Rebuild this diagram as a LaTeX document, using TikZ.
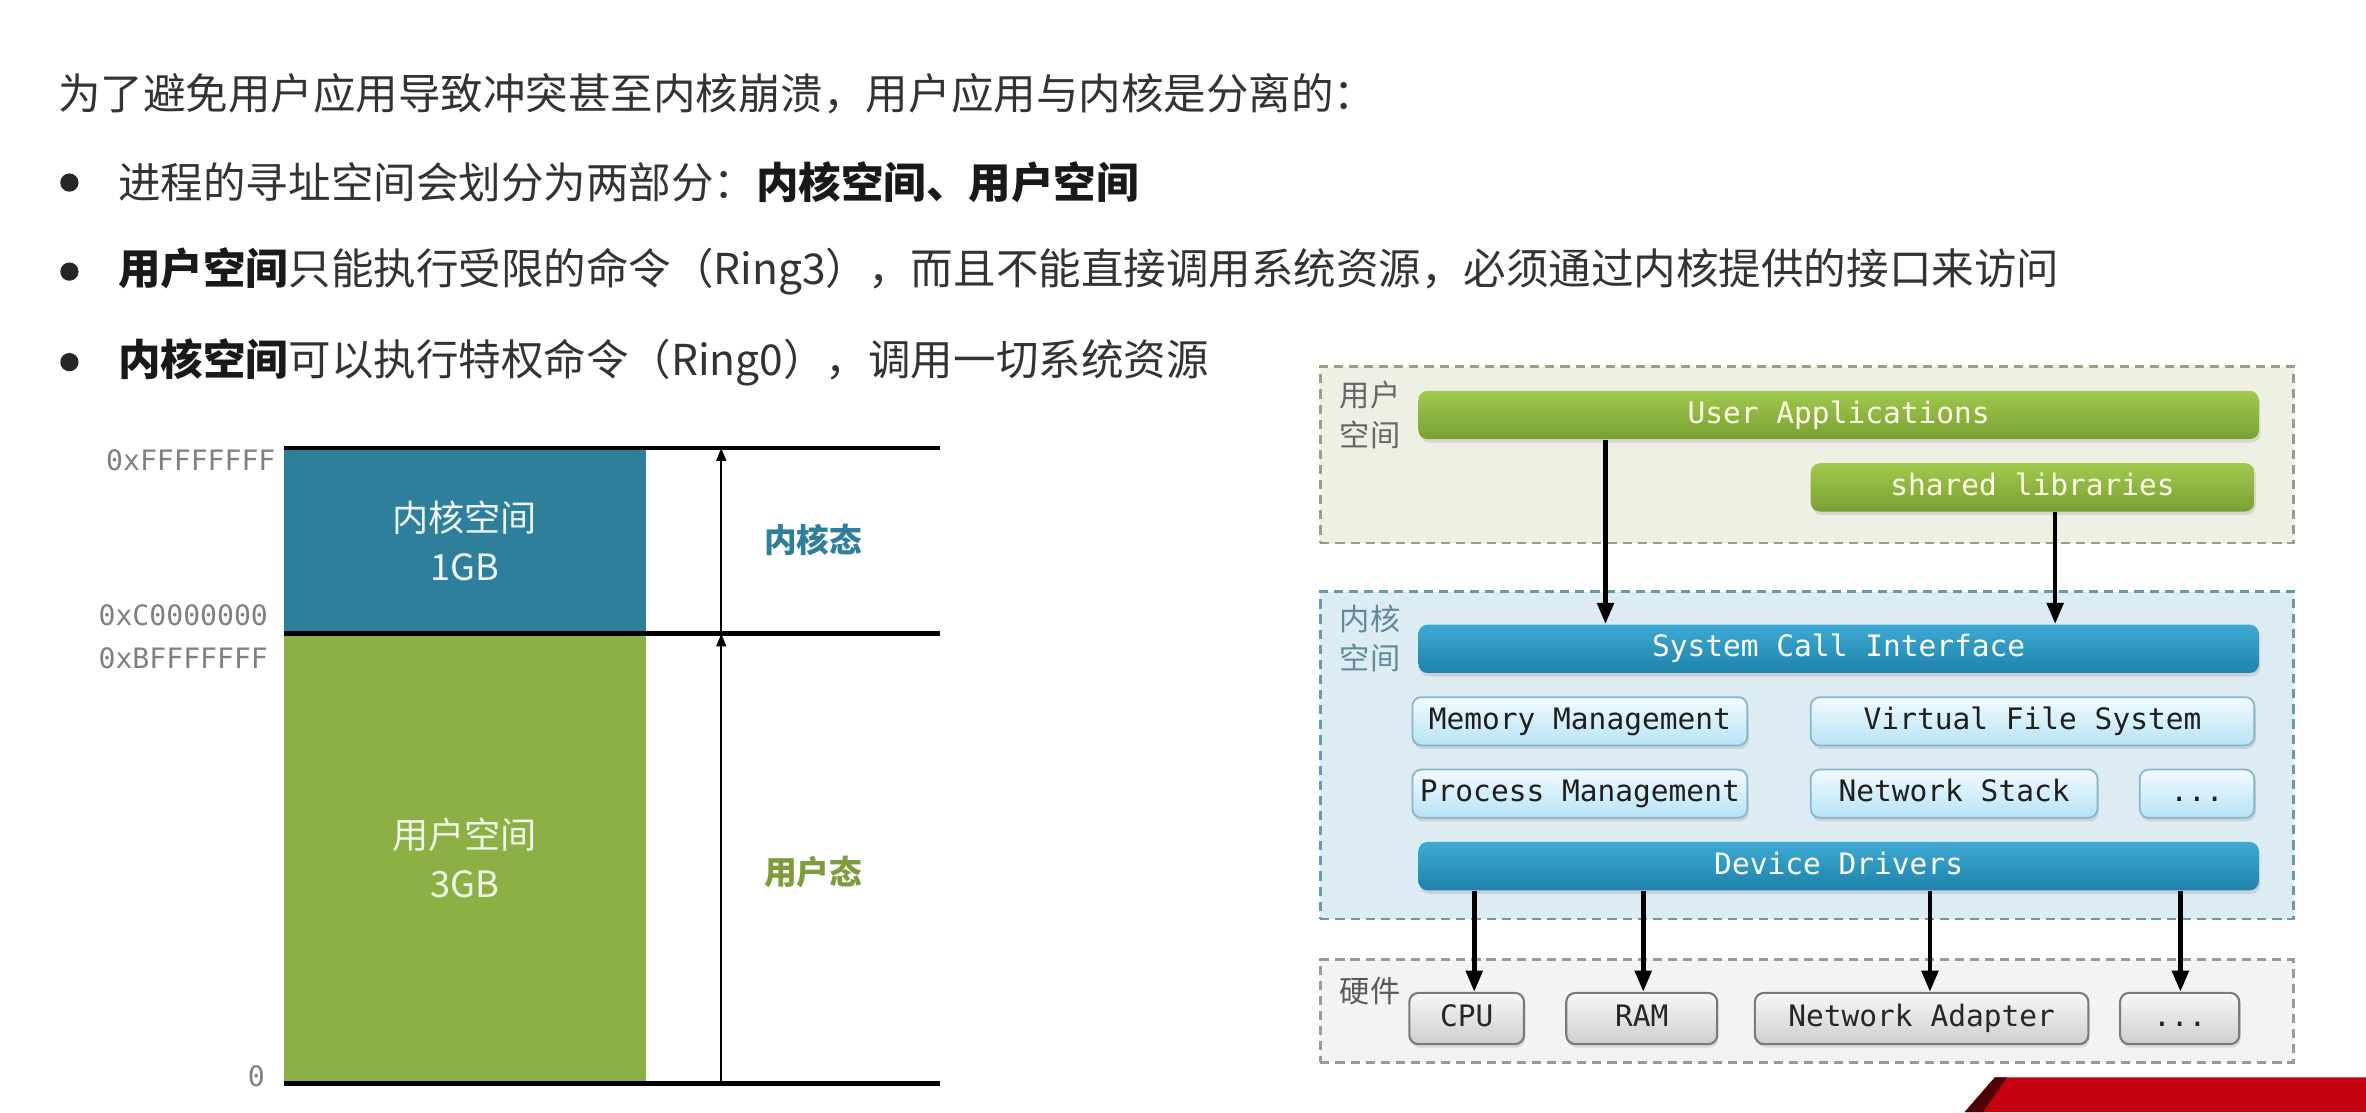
\documentclass[tikz,border=0pt]{standalone}
\usepackage{fontspec}
\setmainfont{Noto Sans CJK SC}
\newfontfamily\mono{DejaVu Sans Mono}
\usetikzlibrary{arrows.meta,fit,shadows}
\definecolor{txt}{HTML}{333333}
\definecolor{kblue}{HTML}{2E7F9B}
\definecolor{ugreen}{HTML}{8CB044}
\definecolor{kstate}{HTML}{2F7F9B}
\definecolor{ustate}{HTML}{7E9C3C}
\definecolor{addr}{HTML}{808080}
\definecolor{ufill}{HTML}{EDF1E3}
\definecolor{uedge}{HTML}{96A084}
\definecolor{kfill}{HTML}{DDEBF2}
\definecolor{kedge}{HTML}{6A9AAA}
\definecolor{hfill}{HTML}{F3F3F3}
\definecolor{hedge}{HTML}{9A9A9A}
\definecolor{gtop}{HTML}{A2C94E}
\definecolor{gbot}{HTML}{78A032}
\definecolor{btop}{HTML}{3DAAD3}
\definecolor{bbot}{HTML}{1F82AA}
\definecolor{ltop}{HTML}{F2FBFF}
\definecolor{lbot}{HTML}{B6E3F5}
\definecolor{ledge}{HTML}{86B6CA}
\definecolor{htop}{HTML}{F8F8F8}
\definecolor{hbot}{HTML}{CDCDCD}
\definecolor{hbedge}{HTML}{7A7A7A}
\definecolor{banner}{HTML}{C2000E}
\tikzset{
  maintext/.style={anchor=west, inner sep=0pt, text=txt, font=\fontsize{12.1pt}{14pt}\selectfont},
  bulletdot/.style={circle, fill=black!85, inner sep=0pt, minimum size=5.2pt},
  memlbl/.style={inner sep=0pt, text=white!92!kblue, font=\fontsize{10.3pt}{12pt}\selectfont},
  statelbl/.style={inner sep=0pt, font=\bfseries\fontsize{9.3pt}{11pt}\selectfont},
  addrlbl/.style={anchor=east, inner sep=0pt, text=addr, font=\mono\fontsize{8pt}{10pt}\selectfont},
  hline/.style={line width=1.3pt, black},
  thinarrow/.style={line width=0.5pt, black, -{Triangle[length=3.6pt,width=2.8pt]}},
  region/.style={inner sep=0pt, dash pattern=on 2.6pt off 1.7pt, line width=0.7pt},
  regionlbl/.style={inner sep=0pt, align=center, font=\fontsize{8.6pt}{11.2pt}\selectfont},
  bar/.style={inner sep=0pt, rounded corners=2.6pt, draw=none,
    drop shadow={opacity=0.22, shadow xshift=0.4pt, shadow yshift=-1pt}},
  gbar/.style={bar, top color=gtop, bottom color=gbot},
  bbar/.style={bar, top color=btop, bottom color=bbot},
  lbox/.style={bar, top color=ltop, bottom color=lbot, draw=ledge, line width=0.5pt},
  hbox/.style={bar, top color=htop, bottom color=hbot, draw=hbedge, line width=0.6pt},
  monotext/.style={inner sep=0pt, anchor=center, text height=6.2pt, text depth=1.6pt,
    font=\mono\fontsize{8.4pt}{10pt}\selectfont},
  gtext/.style={monotext, text=white!90!yellow},
  btext/.style={monotext, text=white},
  ltext/.style={monotext, text=black!88},
  htext/.style={monotext, text=black!85},
  bigarrow/.style={line width=1.3pt, black, -{Triangle[length=6pt,width=4.6pt]}}
}
\begin{document}
\begin{tikzpicture}[x=0.01509cm, y=-0.01509cm]
\useasboundingbox (0,0) rectangle (1568,737);
\fill[white] (0,0) rectangle (1568,737);

% ---- text ----
\node[maintext] (l0) at (38,62) {为了避免用户应用导致冲突甚至内核崩溃，用户应用与内核是分离的：};
\node[bulletdot] (b1) at (46,121) {};
\node[maintext] (t1) at (78,121) {进程的寻址空间会划分为两部分：\textbf{\color{black!90}内核空间、用户空间}};
\node[bulletdot] (b2) at (46,180) {};
\node[maintext] (t2) at (78,180) {\textbf{\color{black!90}用户空间}只能执行受限的命令（Ring3），而且不能直接调用系统资源，必须通过内核提供的接口来访问};
\node[bulletdot] (b3) at (46,240) {};
\node[maintext] (t3) at (78,240) {\textbf{\color{black!90}内核空间}可以执行特权命令（Ring0），调用一切系统资源};

% ---- left memory diagram ----
\node[fill=kblue, inner sep=0pt, fit={(188,297) (428,420)}] (kr) {};
\node[fill=ugreen, inner sep=0pt, fit={(188,420) (428,718)}] (ur) {};
\node[memlbl] (krt) at (308,343) {内核空间};
\node[memlbl] (krs) at (308,376) {1GB};
\node[memlbl, text=white!88!ugreen] (urt) at (308,553) {用户空间};
\node[memlbl, text=white!88!ugreen] (urs) at (308,586) {3GB};

\coordinate (tl) at (188,297); \coordinate (tr) at (623,297);
\coordinate (ml) at (188,420); \coordinate (mr) at (623,420);
\coordinate (bl) at (188,718); \coordinate (br) at (623,718);
\draw[hline] (tl) -- (tr);
\draw[hline] (ml) -- (mr);
\draw[hline] (bl) -- (br);

\coordinate (ab) at (478,718); \coordinate (am) at (478,420); \coordinate (at) at (478,297);
\draw[thinarrow] (ab) -- (am);
\draw[thinarrow] (am) -- (at);

\node[statelbl, text=kstate] (ks) at (539,358) {内核态};
\node[statelbl, text=ustate] (us) at (539,578) {用户态};

\node[addrlbl] (a1) at (183,305) {0xFFFFFFFF};
\node[addrlbl] (a2) at (178,408) {0xC0000000};
\node[addrlbl] (a3) at (178,436) {0xBFFFFFFF};
\node[addrlbl] (a4) at (176,713) {0};

% ---- right architecture diagram ----
\node[region, fill=ufill, draw=uedge, fit={(875,243) (1520,360)}] (ubox) {};
\node[region, fill=kfill, draw=kedge, fit={(875,392) (1520,609)}] (kbox) {};
\node[region, fill=hfill, draw=hedge, fit={(875,636) (1520,704)}] (hwbox) {};

\node[regionlbl, text=black!60] (ulab) at (908,275) {用户\\空间};
\node[regionlbl, text=kedge!90!black] (klab) at (908,423) {内核\\空间};
\node[regionlbl, text=black!65] (hlab) at (908,657) {硬件};

\node[gbar, fit={(940,259) (1497,291)}] (ua) {};
\node[gtext] at (ua.center) {User Applications};
\node[gbar, fit={(1200,307) (1494,339)}] (sl) {};
\node[gtext] at (sl.center) {shared libraries};
\node[bbar, fit={(940,414) (1497,446)}] (sci) {};
\node[btext] at (sci.center) {System Call Interface};
\node[lbox, fit={(936,462) (1158,494)}] (mm) {};
\node[ltext] at (mm.center) {Memory Management};
\node[lbox, fit={(1200,462) (1494,494)}] (vfs) {};
\node[ltext] at (vfs.center) {Virtual File System};
\node[lbox, fit={(936,510) (1158,542)}] (pm) {};
\node[ltext] at (pm.center) {Process Management};
\node[lbox, fit={(1200,510) (1390,542)}] (ns) {};
\node[ltext] at (ns.center) {Network Stack};
\node[lbox, fit={(1418,510) (1494,542)}] (kx) {};
\node[ltext] at (kx.center) {...};
\node[bbar, fit={(940,558) (1497,590)}] (dd) {};
\node[btext] at (dd.center) {Device Drivers};

\node[hbox, fit={(934,658) (1010,692)}] (cpu) {};
\node[htext] at (cpu.center) {CPU};
\node[hbox, fit={(1038,658) (1138,692)}] (ram) {};
\node[htext] at (ram.center) {RAM};
\node[hbox, fit={(1163,658) (1384,692)}] (na) {};
\node[htext] at (na.center) {Network Adapter};
\node[hbox, fit={(1405,658) (1484,692)}] (hx) {};
\node[htext] at (hx.center) {...};

\coordinate (x1) at (1064,0);
\coordinate (x2) at (1362,0);
\draw[bigarrow] (x1 |- ua.south) -- (x1 |- sci.north);
\draw[bigarrow] (x2 |- sl.south) -- (x2 |- sci.north);

\coordinate (d1) at (977,0);
\coordinate (d2) at (1089,0);
\coordinate (d3) at (1279,0);
\coordinate (d4) at (1445,0);
\draw[bigarrow] (d1 |- dd.south) -- (d1 |- cpu.north);
\draw[bigarrow] (d2 |- dd.south) -- (d2 |- ram.north);
\draw[bigarrow] (d3 |- dd.south) -- (d3 |- na.north);
\draw[bigarrow] (d4 |- dd.south) -- (d4 |- hx.north);

% ---- red banner (cut off at the bottom edge) ----
\fill[banner] (1302,737) -- (1322,714) -- (1568,714) -- (1568,737) -- cycle;
\fill[black!60!banner] (1302,737) -- (1322,714) -- (1330,714) -- (1314,737) -- cycle;
\end{tikzpicture}
\end{document}
